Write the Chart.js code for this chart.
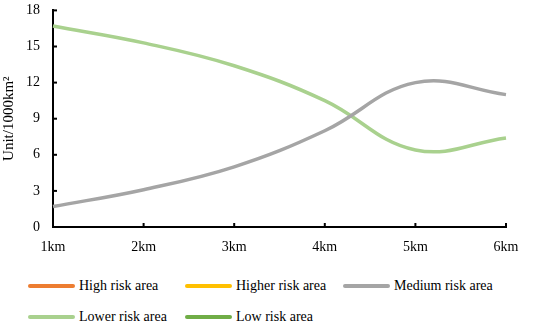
<!DOCTYPE html>
<html>
<head>
<meta charset="utf-8">
<script src="https://cdn.jsdelivr.net/npm/chart.js@4/dist/chart.umd.min.js"></script>
<style>
  body { margin: 0; width: 550px; height: 328px; background: #fff; overflow: hidden; font-family: "Liberation Serif", serif; }
  #wrap { position: relative; width: 550px; height: 255px; }
  #legend { position: absolute; left: 0; top: 278px; width: 550px; }
  .item { position: absolute; display: flex; align-items: center; font-size: 14px; color: #000; white-space: nowrap; }
  .item span.ln { display: inline-block; width: 47px; height: 4px; border-radius: 2px; margin-right: 4px; }
</style>
</head>
<body>
<div id="wrap"><canvas id="c"></canvas></div>
<div id="legend"></div>
<script>
// ---------- data ----------
const distances = ["1km", "2km", "3km", "4km", "5km", "6km"];
const seriesNames = ["High risk area", "Higher risk area", "Medium risk area", "Lower risk area", "Low risk area"];
const seriesColors = ["#ed7d31", "#ffc000", "#a5a5a5", "#a9d18e", "#70ad47"];
const highRisk   = [];
const higherRisk = [];
const mediumRisk = [1.7, 3.1, 5.0, 8.0, 12.0, 11.0];
const lowerRisk  = [16.7, 15.3, 13.4, 10.5, 6.4, 7.4];
const lowRisk    = [];
const yTicks = [0, 3, 6, 9, 12, 15, 18];

const seriesData = [highRisk, higherRisk, mediumRisk, lowerRisk, lowRisk];

// ---------- legend (html) ----------
const legendPos = [[28, 0], [185, 0], [343, 0], [28, 31], [185, 31]];
const legend = document.getElementById('legend');
seriesNames.forEach((n, i) => {
  const d = document.createElement('div');
  d.className = 'item';
  d.style.left = legendPos[i][0] + 'px';
  d.style.top = legendPos[i][1] + 'px';
  d.innerHTML = `<span class="ln" style="background:${seriesColors[i]}"></span>${n}`;
  legend.appendChild(d);
});

// inward tick marks on both axes
const innerTicks = {
  id: 'innerTicks',
  afterDraw(chart) {
    const {ctx, scales: {x, y}} = chart;
    ctx.save();
    ctx.strokeStyle = '#000';
    ctx.lineWidth = 2;
    x.ticks.forEach((t, i) => {
      const px = x.getPixelForTick(i);
      ctx.beginPath();
      ctx.moveTo(px, y.bottom);
      ctx.lineTo(px, y.bottom - 4);
      ctx.stroke();
    });
    y.ticks.forEach((t, i) => {
      const py = y.getPixelForTick(i);
      ctx.beginPath();
      ctx.moveTo(x.left, py);
      ctx.lineTo(x.left + 4, py);
      ctx.stroke();
    });
    ctx.restore();
  }
};

new Chart(document.getElementById('c'), {
  type: 'line',
  data: {
    labels: distances,
    datasets: seriesNames.map((n, i) => ({
      label: n,
      data: seriesData[i],
      borderColor: seriesColors[i],
      backgroundColor: seriesColors[i],
      borderWidth: 3.5,
      pointRadius: 0,
      tension: 0.4,
      fill: false
    }))
  },
  options: {
    responsive: true,
    maintainAspectRatio: false,
    animation: false,
    layout: { autoPadding: false, padding: { top: 3, right: 44, left: 0, bottom: 0 } },
    plugins: { legend: { display: false }, tooltip: { enabled: false } },
    scales: {
      x: {
        offset: false,
        grid: { display: false, drawOnChartArea: false },
        border: { display: true, color: '#000', width: 2 },
        ticks: { color: '#000', font: { family: 'Liberation Serif', size: 14 }, padding: 4, maxRotation: 0 },
        afterFit(s) { s.height = 28; }
      },
      y: {
        min: 0, max: 18,
        afterBuildTicks(s) { s.ticks = yTicks.map(v => ({ value: v })); },
        grid: { display: true, drawOnChartArea: false, drawTicks: true, tickLength: 11, color: 'rgba(0,0,0,0)' },
        border: { display: true, color: '#000', width: 2 },
        ticks: { color: '#000', font: { family: 'Liberation Serif', size: 14 }, padding: 2 },
        title: { display: true, text: 'Unit/1000km²', color: '#000', font: { family: 'Liberation Serif', size: 15 }, padding: 0 },
        afterFit(s) { s.width = 53; }
      }
    }
  },
  plugins: [innerTicks]
});
</script>
</body>
</html>
